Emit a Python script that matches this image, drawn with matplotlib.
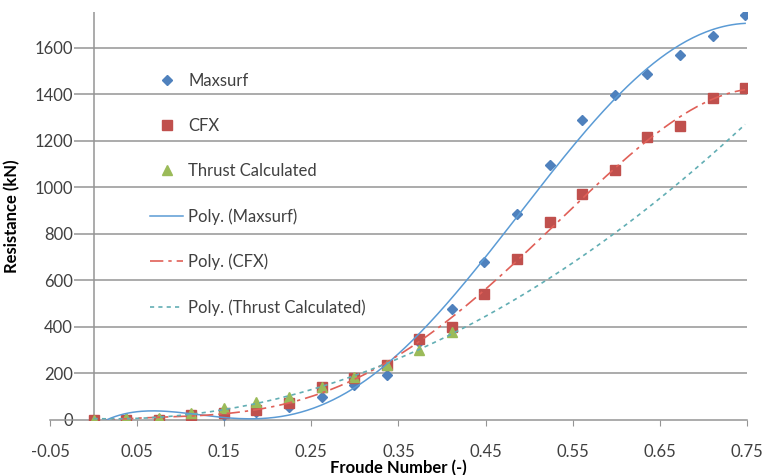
import numpy as np
import matplotlib
matplotlib.use('Agg')
import matplotlib.pyplot as plt

# Data
froude = [0.0, 0.0374, 0.0748, 0.1122, 0.1496, 0.187, 0.2244, 0.2618, 0.2992, 0.3366,
          0.374, 0.4114, 0.4488, 0.4862, 0.5236, 0.561, 0.5984, 0.6358, 0.6732, 0.7106, 0.748]
maxsurf = [0, 3, 3, 12, 20, 35, 55, 100, 150, 193,
           335, 475, 680, 887, 1095, 1288, 1395, 1486, 1567, 1650, 1739]
cfx = [0, 0, 0, 20, 28, 43, 72, 143, 180, 236,
       346, 401, 540, 690, 851, 970, 1073, 1214, 1264, 1384, 1427]
thrust_froude = froude[:12]
thrust = [0, 8, 10, 30, 50, 79, 100, 140, 186, 236, 300, 380]

x_ticks = [-0.05, 0.05, 0.15, 0.25, 0.35, 0.45, 0.55, 0.65, 0.75]
y_ticks = [0, 200, 400, 600, 800, 1000, 1200, 1400, 1600]

# polynomial trendline orders (spreadsheet style)
ORDER_MAXSURF = 5
ORDER_CFX = 5
ORDER_THRUST = 2

plt.rcParams['font.family'] = ['Lato', 'DejaVu Sans']

fig = plt.figure(figsize=(7.66, 4.75), dpi=100)
ax = fig.add_axes([0.0653, 0.1158, 0.9097, 0.859])

# grid and axes
for v in y_ticks[1:]:
    ax.axhline(v, color='#959595', lw=1.1, zorder=0)
ax.axvline(0, color='#959595', lw=1.1, zorder=0)
for s in ['left', 'top', 'right']:
    ax.spines[s].set_visible(False)
ax.spines['bottom'].set_color('#959595')
ax.spines['bottom'].set_linewidth(1.1)

xx = np.linspace(0, 0.748, 300)
p_m = np.polyfit(froude, maxsurf, ORDER_MAXSURF)
p_c = np.polyfit(froude, cfx, ORDER_CFX)
p_t = np.polyfit(thrust_froude, thrust, ORDER_THRUST)

ax.plot(froude, maxsurf, linestyle='none', marker='D', ms=5, color='#4F81BD',
        label='Maxsurf', zorder=3)
ax.plot(froude, cfx, linestyle='none', marker='s', ms=7, color='#C0504D',
        label='CFX', zorder=3)
ax.plot(thrust_froude, thrust, linestyle='none', marker='^', ms=7, color='#9BBB59',
        label='Thrust Calculated', zorder=3)
ax.plot(xx, np.polyval(p_m, xx), color='#5B9BD5', lw=1.1, label='Poly. (Maxsurf)', zorder=4)
ax.plot(xx, np.polyval(p_c, xx), color='#E06058', lw=1.2, linestyle=(0, (8, 3, 2, 3)),
        label='Poly. (CFX)', zorder=4)
ax.plot(xx, np.polyval(p_t, xx), color='#62AEB4', lw=1.2, linestyle=(0, (2.5, 2.5)),
        label='Poly. (Thrust Calculated)', zorder=4)

ax.set_xlim(-0.05, 0.75)
ax.set_ylim(0, 1753)
ax.set_xticks(x_ticks)
ax.set_xticklabels([f'{v:.2f}' for v in x_ticks])
ax.set_yticks(y_ticks)
ax.set_yticklabels([str(v) for v in y_ticks])
ax.tick_params(axis='x', length=4, color='#959595', pad=13, labelsize=12, labelcolor='#404040')
ax.tick_params(axis='y', length=0, pad=-16.5, labelsize=12, labelcolor='#404040')
for lbl in ax.get_yticklabels():
    lbl.set_bbox(dict(facecolor='white', edgecolor='none', pad=0.5))

ax.set_xlabel('Froude Number (-)', fontsize=12, fontweight='bold', labelpad=0)
ax.set_ylabel('Resistance (kN)', fontsize=12, fontweight='bold')
ax.yaxis.set_label_coords(-0.042, 0.5)

ax.legend(loc='upper left', bbox_to_anchor=(0.1315, 0.872), frameon=False, fontsize=12,
          labelspacing=1.75, handlelength=2.0, handletextpad=0.3, borderpad=0,
          labelcolor='#404040')

fig.savefig('out.png', dpi=100)
